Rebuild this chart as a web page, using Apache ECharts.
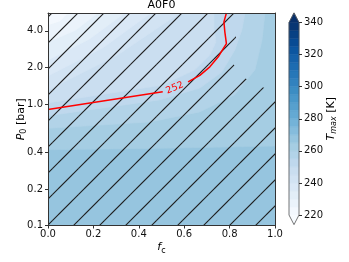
<!DOCTYPE html>
<html><head><meta charset="utf-8">
<script src="https://cdn.jsdelivr.net/npm/echarts@6/dist/echarts.min.js"></script>
<style>html,body{margin:0;padding:0;background:#fff}#c{width:349px;height:262px}</style>
</head><body><div id="c"></div>
<script>
// ---------------- data ----------------
const chartTitle = 'A0F0';
const xTicks = [0.0, 0.2, 0.4, 0.6, 0.8, 1.0];
const yTicks = [0.1, 0.2, 0.4, 1.0, 2.0, 4.0];
const fcMin = 0, fcMax = 1;
const pMin = 0.1, pMax = 5.6;
const cbTicks = [220, 240, 260, 280, 300, 320, 340];
const cbMin = 220, cbMax = 340, cbStep = 5;

// filled-contour boundaries of T_max, as [f_c, P0 (bar)]
const c225 = [[0, 4.47], [0.053, 4.82], [0.086, 5.6]];
const c230 = [[0, 3.24], [0.121, 4.03], [0.219, 5.6]];
const c235 = [[0, 2.30], [0.181, 3.40], [0.338, 5.6]];
const c240 = [[0, 1.70], [0.241, 2.89], [0.453, 5.6]];
const c245 = [[0, 1.30], [0.307, 2.53], [0.581, 5.6]];
const c250 = [[0, 1.02], [0.506, 1.43], [0.647, 1.91], [0.713, 2.53], [0.740, 3.24], [0.731, 4.22], [0.731, 5.6]];
const c255 = [[0, 0.80], [0.492, 1.08], [0.669, 1.35], [0.766, 1.83], [0.823, 2.78], [0.854, 4.06], [0.868, 5.6]];
const c260 = [[0, 0.63], [0.448, 0.71], [0.669, 0.86], [0.823, 1.19], [0.912, 1.91], [0.943, 3.36], [0.956, 5.6]];
const c265 = [[0, 0.42], [0.448, 0.43], [1, 0.45]];

// red contour line (T = 252 K), split around its label
const red252a = [[0, 0.90], [0.5055, 1.26]];
const red252b = [[0.617, 1.52], [0.669, 1.72], [0.713, 2.02], [0.750, 2.44], [0.772, 2.85], [0.786, 3.13], [0.779, 3.92], [0.775, 4.73], [0.786, 5.6]];
const redLabelValue = 252;
const redLabelPos = [0.5585, 1.354];

// hatched region outline
const hatchRegion = [[0, 0.1], [1, 0.1], [1, 1.26], [0.943, 1.38], [0.872, 1.61], [0.801, 2.30], [0.828, 3.36], [0.828, 5.6], [0, 5.6]];

// ---------------- helpers ----------------
const BL = ['#f7fbff', '#deebf7', '#c6dbef', '#9ecae1', '#6baed6', '#4292c6', '#2171b5', '#08519c', '#08306b'];
function hex2rgb(h) { return [1, 3, 5].map(i => parseInt(h.substr(i, 2), 16)); }
function blues(t) {
  t = Math.max(0, Math.min(1, t));
  const s = t * 8, i = Math.min(7, Math.floor(s)), f = s - i;
  const a = hex2rgb(BL[i]), b = hex2rgb(BL[i + 1]);
  const c = a.map((v, k) => Math.round(v + (b[k] - v) * f));
  return 'rgb(' + c.join(',') + ')';
}
function bandColor(lo) { return blues((lo + cbStep / 2 - cbMin) / (cbMax - cbMin)); }
const L = v => Math.log10(v);

const regions = [
  { lo: 265, pts: [[fcMin, pMin], [fcMax, pMin], [fcMax, pMax], [fcMin, pMax]] },
  { lo: 260, pts: c265.concat([[fcMax, pMax], [fcMin, pMax]]) },
  { lo: 255, pts: c260.concat([[fcMin, pMax]]) },
  { lo: 250, pts: c255.concat([[fcMin, pMax]]) },
  { lo: 245, pts: c250.concat([[fcMin, pMax]]) },
  { lo: 240, pts: c245.concat([[fcMin, pMax]]) },
  { lo: 235, pts: c240.concat([[fcMin, pMax]]) },
  { lo: 230, pts: c235.concat([[fcMin, pMax]]) },
  { lo: 225, pts: c230.concat([[fcMin, pMax]]) },
  { lo: 220, pts: c225.concat([[fcMin, pMax]]) }
];

// hatch pattern tile
const HS = 26, HPH = 13;
const hcv = document.createElement('canvas');
hcv.width = HS; hcv.height = HS;
(function () {
  const g = hcv.getContext('2d');
  g.strokeStyle = '#1e1e1e'; g.lineWidth = 1.15;
  [HPH, HPH + HS, HPH - HS].forEach(c => {
    g.beginPath(); g.moveTo(c + 3, -3); g.lineTo(-3, c + 3); g.stroke();
  });
})();

const levelsLo = [];
for (let v = cbMin; v < cbMax; v += cbStep) levelsLo.push(v);

const FF = 'DejaVu Sans';
const AX = '#333';
const rich = {
  i: { fontFamily: FF, fontStyle: 'italic', fontSize: 11, lineHeight: 14, color: '#000' },
  n: { fontFamily: FF, fontSize: 11, lineHeight: 14, color: '#000' },
  s: { fontFamily: FF, fontSize: 8, lineHeight: 8, padding: [6, 0, 0, 0], color: '#000' },
  si: { fontFamily: FF, fontStyle: 'italic', fontSize: 8, lineHeight: 8, padding: [6, 0, 0, 0], color: '#000' }
};
const lab = { fontFamily: FF, fontSize: 10, color: '#111' };

const chart = echarts.init(document.getElementById('c'), null, { renderer: 'canvas' });
chart.setOption({
  animation: false,
  backgroundColor: '#fff',
  title: {
    text: chartTitle, left: 161.5, top: 0, textAlign: 'center', padding: 0,
    textStyle: { fontFamily: FF, fontSize: 11, fontWeight: 'normal', color: '#000' }
  },
  grid: [
    { left: 48, top: 13, width: 227, height: 212.5, outerBoundsMode: 'none', containLabel: false },
    { left: 289, top: 22.5, width: 10, height: 192.5, outerBoundsMode: 'none', containLabel: false }
  ],
  xAxis: [
    {
      gridIndex: 0, type: 'value', min: fcMin, max: fcMax, interval: 0.2, position: 'bottom', z: 10,
      axisLine: { onZero: false, lineStyle: { color: AX, width: 1 } },
      axisTick: { length: 3, lineStyle: { color: AX } },
      axisLabel: { ...lab, margin: 4, formatter: v => v.toFixed(1), customValues: xTicks },
      splitLine: { show: false },
      name: '{i|f}{s|c}', nameLocation: 'middle', nameGap: 15, nameMoveOverlap: false,
      nameTextStyle: { rich: rich }
    },
    {
      gridIndex: 0, type: 'value', min: fcMin, max: fcMax, position: 'top', z: 10,
      axisLine: { onZero: false, lineStyle: { color: AX, width: 1 } },
      axisTick: { show: false }, axisLabel: { show: false }, splitLine: { show: false }
    },
    { gridIndex: 1, type: 'value', min: 0, max: 1, show: false }
  ],
  yAxis: [
    {
      gridIndex: 0, type: 'value', min: L(pMin), max: L(pMax), position: 'left', z: 10,
      axisLine: { onZero: false, lineStyle: { color: AX, width: 1 } },
      axisTick: { length: 3, lineStyle: { color: AX }, customValues: yTicks.map(L) },
      axisLabel: { ...lab, margin: 5, customValues: yTicks.map(L), formatter: v => Math.pow(10, v).toFixed(1) },
      splitLine: { show: false },
      name: '{i|P}{s|0}{n| [bar]}', nameLocation: 'middle', nameRotate: 90, nameGap: 20, nameMoveOverlap: false,
      nameTextStyle: { rich: rich }
    },
    {
      gridIndex: 0, type: 'value', min: L(pMin), max: L(pMax), position: 'right', z: 10,
      axisLine: { onZero: false, lineStyle: { color: AX, width: 1 } },
      axisTick: { show: false }, axisLabel: { show: false }, splitLine: { show: false }
    },
    {
      gridIndex: 1, type: 'value', min: cbMin, max: cbMax, interval: 20, position: 'right', z: 10,
      axisLine: { show: false, onZero: false },
      axisTick: { length: 3, lineStyle: { color: AX } },
      axisLabel: { ...lab, margin: 5 },
      splitLine: { show: false },
      name: '{i|T}{si|max}{n| [K]}', nameLocation: 'middle', nameRotate: 90, nameGap: 25, nameMoveOverlap: false,
      nameTextStyle: { rich: rich }
    }
  ],
  series: [
    {
      type: 'custom', xAxisIndex: 0, yAxisIndex: 0, z: 1, clip: true,
      data: regions.map(r => [0.5, 0, r.lo]),
      renderItem: (params, api) => {
        const r = regions[params.dataIndex];
        const pts = r.pts.map(p => api.coord([p[0], L(p[1])]));
        const col = bandColor(r.lo);
        return { type: 'polygon', shape: { points: pts }, style: { fill: col, stroke: col, lineWidth: 0.6 } };
      }
    },
    {
      type: 'custom', xAxisIndex: 0, yAxisIndex: 0, z: 2, clip: true,
      data: [[0.5, 0]],
      renderItem: (params, api) => {
        const pts = hatchRegion.map(p => api.coord([p[0], L(p[1])]));
        return { type: 'polygon', shape: { points: pts }, style: { fill: { image: hcv, repeat: 'repeat' }, stroke: null } };
      }
    },
    {
      type: 'line', xAxisIndex: 0, yAxisIndex: 0, z: 3, symbol: 'none', clip: true,
      data: red252a.map(p => [p[0], L(p[1])]),
      lineStyle: { color: '#ff0000', width: 1.5 }
    },
    {
      type: 'line', xAxisIndex: 0, yAxisIndex: 0, z: 3, symbol: 'none', clip: true,
      data: red252b.map(p => [p[0], L(p[1])]),
      lineStyle: { color: '#ff0000', width: 1.5 }
    },
    {
      type: 'custom', xAxisIndex: 0, yAxisIndex: 0, z: 4, clip: false,
      data: [[redLabelPos[0], L(redLabelPos[1]), redLabelValue]],
      renderItem: (params, api) => {
        const p = api.coord([api.value(0), api.value(1)]);
        return {
          type: 'text', x: p[0], y: p[1], rotation: 22 * Math.PI / 180,
          style: { text: String(api.value(2)), fill: '#ff0000', fontSize: 9.5, fontFamily: FF, align: 'center', verticalAlign: 'middle' }
        };
      }
    },
    {
      type: 'custom', xAxisIndex: 2, yAxisIndex: 2, z: 1, clip: false,
      data: levelsLo.map(v => [0.5, v]),
      renderItem: (params, api) => {
        const lo = api.value(1);
        const a = api.coord([0, lo]), b = api.coord([1, lo + cbStep]);
        const col = bandColor(lo);
        return { type: 'rect', shape: { x: a[0], y: b[1], width: b[0] - a[0], height: a[1] - b[1] }, style: { fill: col, stroke: col, lineWidth: 0.5 } };
      }
    },
    {
      type: 'custom', xAxisIndex: 2, yAxisIndex: 2, z: 2, clip: false,
      data: [[0.5, cbMin]],
      renderItem: (params, api) => {
        const tl = api.coord([0, cbMax]), br = api.coord([1, cbMin]);
        const ext = 0.05 * (br[1] - tl[1]);
        const mx = (tl[0] + br[0]) / 2;
        const top = [[tl[0], tl[1]], [br[0], tl[1]], [mx, tl[1] - ext]];
        const bot = [[tl[0], br[1]], [br[0], br[1]], [mx, br[1] + ext]];
        const outline = [[mx, tl[1] - ext], [br[0], tl[1]], [br[0], br[1]], [mx, br[1] + ext], [tl[0], br[1]], [tl[0], tl[1]]];
        return {
          type: 'group', children: [
            { type: 'polygon', shape: { points: top }, style: { fill: blues(1), stroke: blues(1), lineWidth: 0.5 } },
            { type: 'polygon', shape: { points: bot }, style: { fill: blues(0), stroke: blues(0), lineWidth: 0.5 } },
            { type: 'polygon', shape: { points: outline }, style: { fill: null, stroke: '#555', lineWidth: 0.8 } }
          ]
        };
      }
    }
  ]
});
</script>
</body></html>
